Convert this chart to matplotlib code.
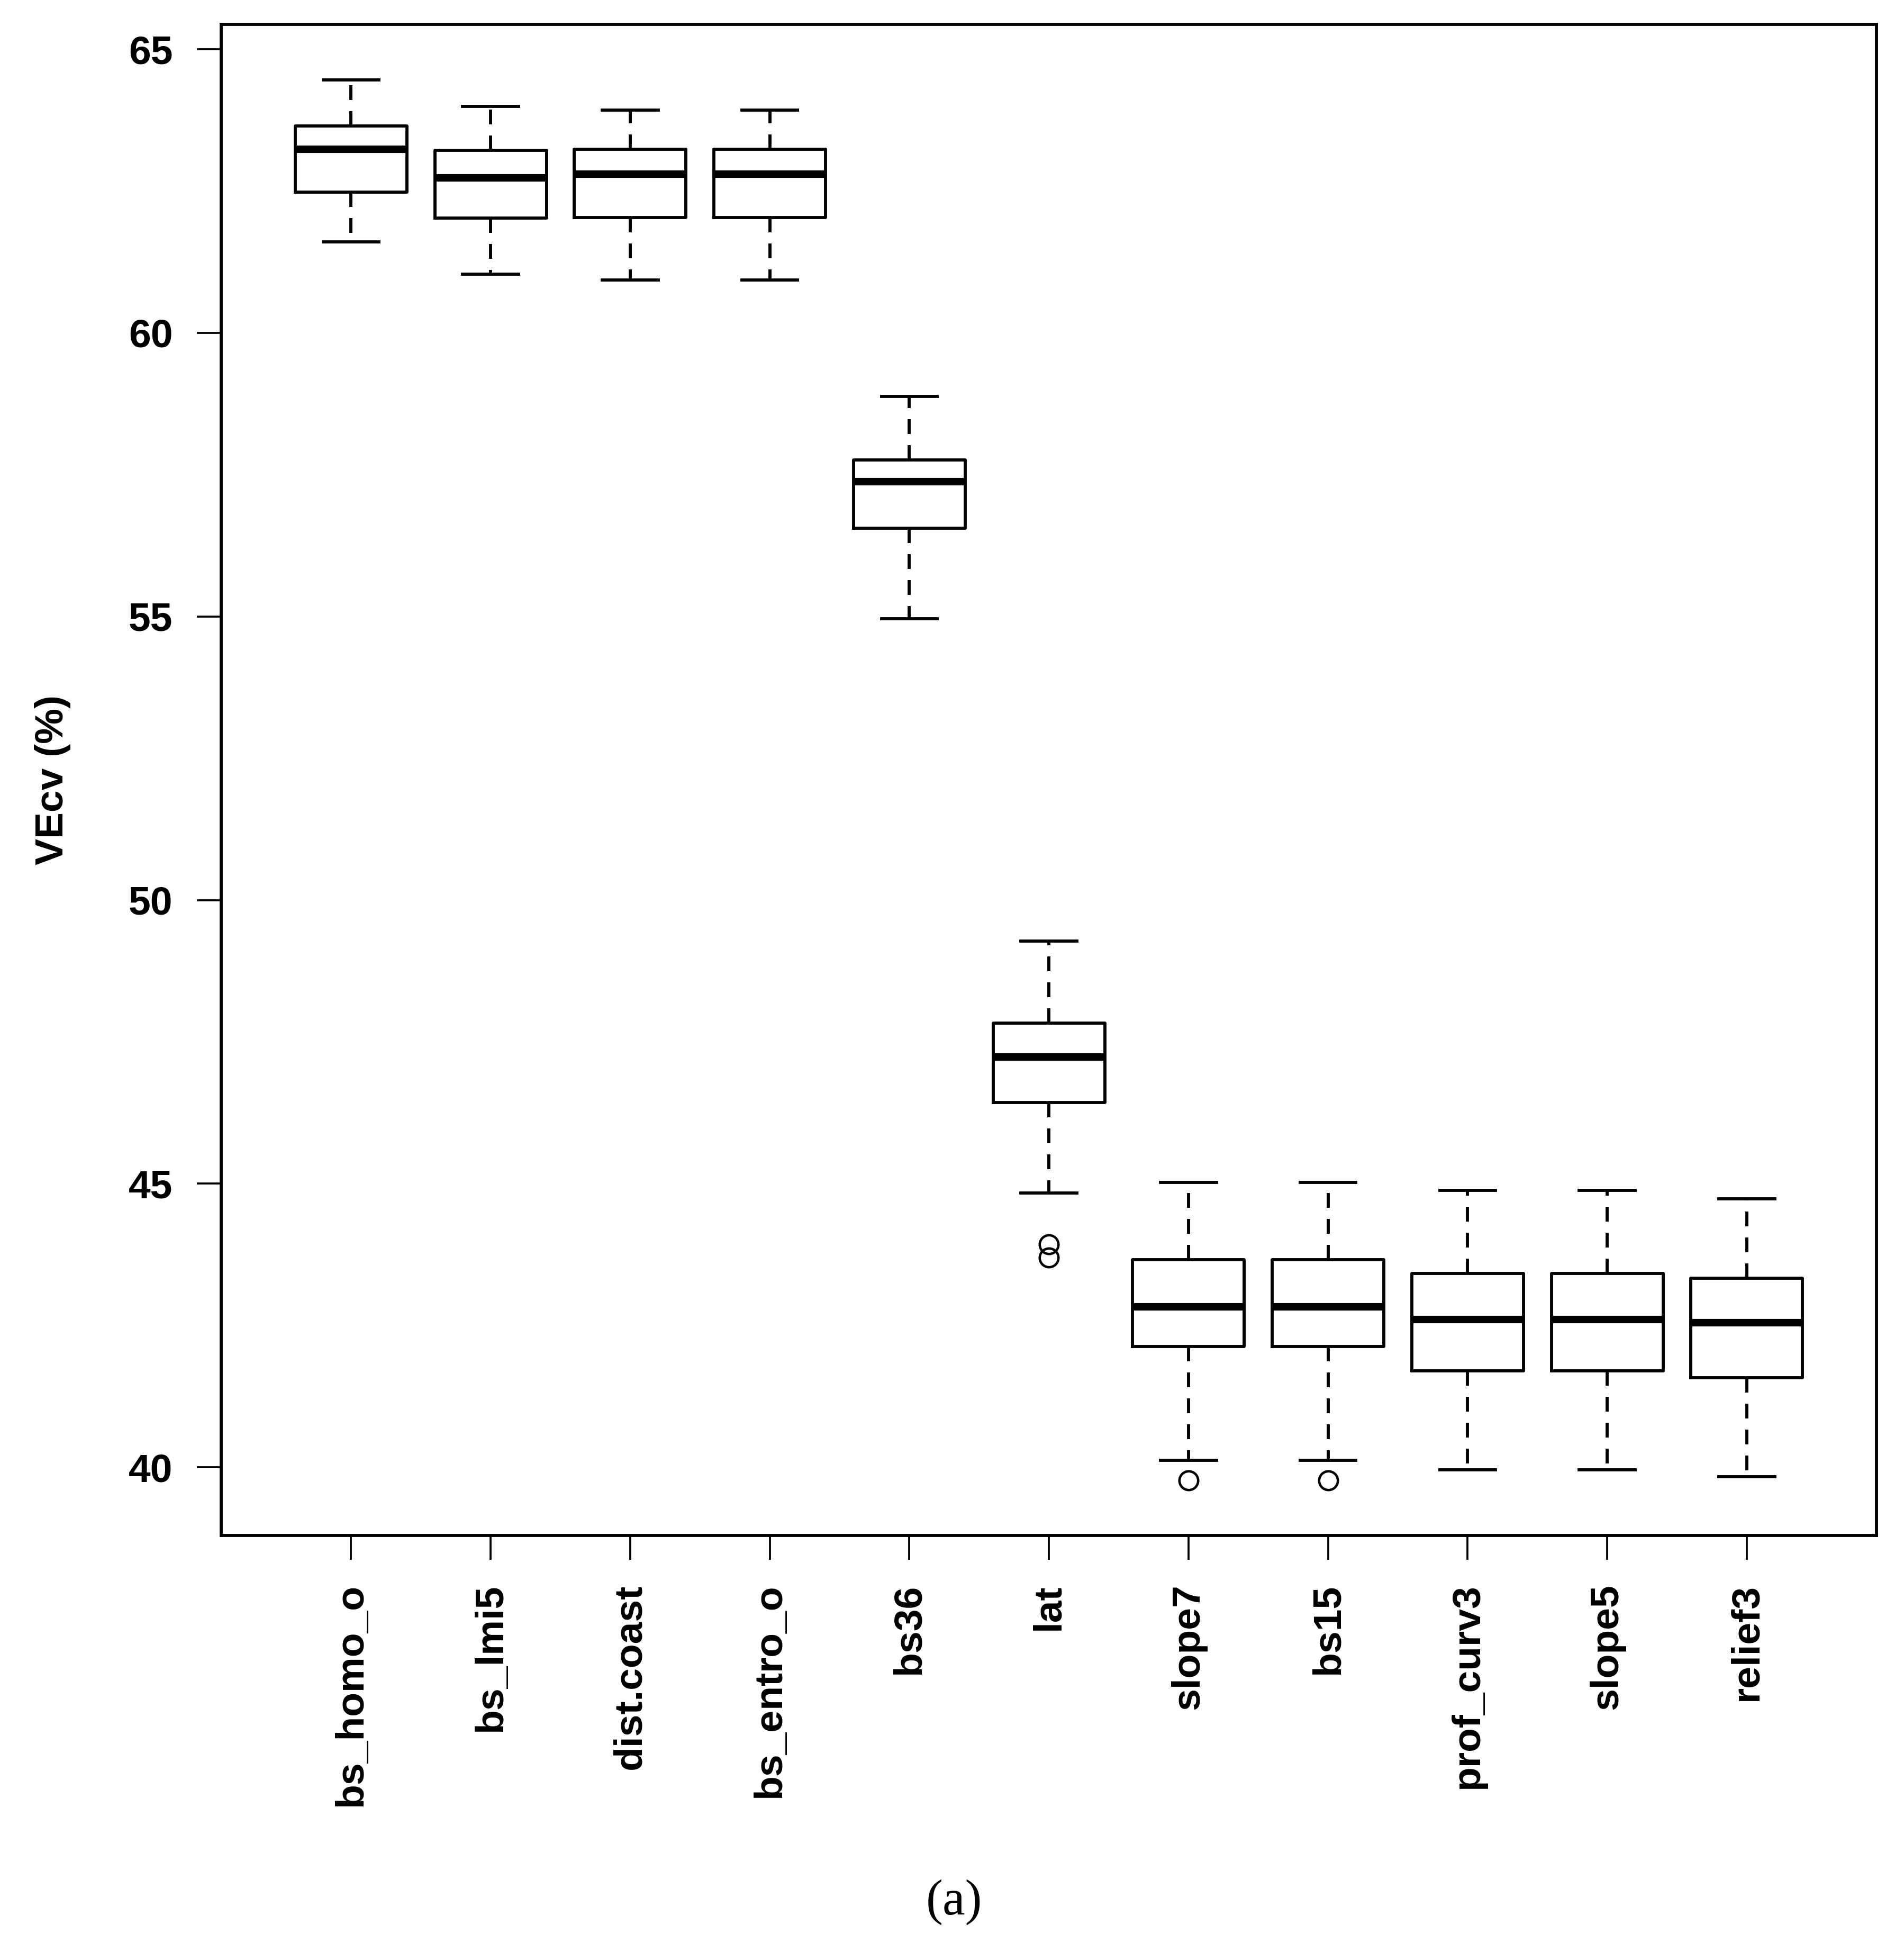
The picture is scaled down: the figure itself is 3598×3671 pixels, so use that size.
import matplotlib
matplotlib.use("Agg")
import matplotlib.pyplot as plt

# variables, in plotted order
names = ["bs_homo_o", "bs_lmi5", "dist.coast", "bs_entro_o", "bs36", "lat",
         "slope7", "bs15", "prof_curv3", "slope5", "relief3"]

# box statistics (VEcv %)
whisk_lo = [61.60, 61.03, 60.93, 60.93, 54.96, 44.84, 40.12, 40.12, 39.96, 39.96, 39.83]
q1 = [62.48, 62.02, 62.03, 62.03, 56.56, 46.43, 42.13, 42.13, 41.70, 41.70, 41.58]
med = [63.24, 62.73, 62.80, 62.80, 57.38, 47.23, 42.83, 42.83, 42.61, 42.61, 42.55]
q3 = [63.65, 63.22, 63.24, 63.24, 57.76, 47.83, 43.66, 43.66, 43.42, 43.42, 43.33]
whisk_hi = [64.46, 63.99, 63.93, 63.93, 58.88, 49.28, 45.02, 45.02, 44.88, 44.88, 44.73]
outliers = [[], [], [], [], [], [43.93, 43.70], [39.77], [39.77], [], [], []]

yticks = [40, 45, 50, 55, 60, 65]

stats = []
for i, n in enumerate(names):
    stats.append({"label": n, "whislo": whisk_lo[i], "q1": q1[i], "med": med[i],
                  "q3": q3[i], "whishi": whisk_hi[i], "fliers": outliers[i]})

plt.rcParams["font.family"] = ["Liberation Sans", "DejaVu Sans"]
plt.rcParams["font.weight"] = "bold"

fig = plt.figure(figsize=(3598 / 300, 3671 / 300), dpi=300)
ax = fig.add_axes([0.1162, 0.2098, 0.9856 - 0.1162, 0.9875 - 0.2098])

lw = 1.4
ax.bxp(stats, positions=range(1, len(names) + 1), widths=0.8, capwidths=0.4,
       boxprops=dict(color="black", linewidth=lw),
       medianprops=dict(color="black", linewidth=3.4, solid_capstyle="butt"),
       whiskerprops=dict(color="black", linewidth=lw, linestyle=(0, (4.8, 3.6))),
       capprops=dict(color="black", linewidth=lw),
       flierprops=dict(marker="o", markerfacecolor="none", markeredgecolor="black",
                       markersize=8.5, markeredgewidth=1.1))

ax.set_xlim(0.07, 11.93)
ax.set_ylim(38.80, 65.44)
ax.set_yticks(yticks)
ax.set_yticklabels([str(v) for v in yticks], fontsize=18, fontweight="bold")
ax.set_xticks(range(1, len(names) + 1))
ax.set_xticklabels(names, rotation=90, fontsize=18, fontweight="bold")
ax.tick_params(axis="both", direction="out", length=11, width=0.9, pad=11)

for s in ax.spines.values():
    s.set_linewidth(1.4)

ax.set_ylabel("VEcv (%)", fontsize=18, fontweight="bold")
ax.yaxis.set_label_coords(-0.1017, 0.5)
ax.yaxis.label.set_verticalalignment("center")

fig.text(0.501, 0.021, "(a)", ha="center", va="center", fontsize=23,
         family=["Liberation Serif", "DejaVu Serif"], fontweight="normal")

fig.savefig("out.png", dpi=300)
plt.close(fig)
